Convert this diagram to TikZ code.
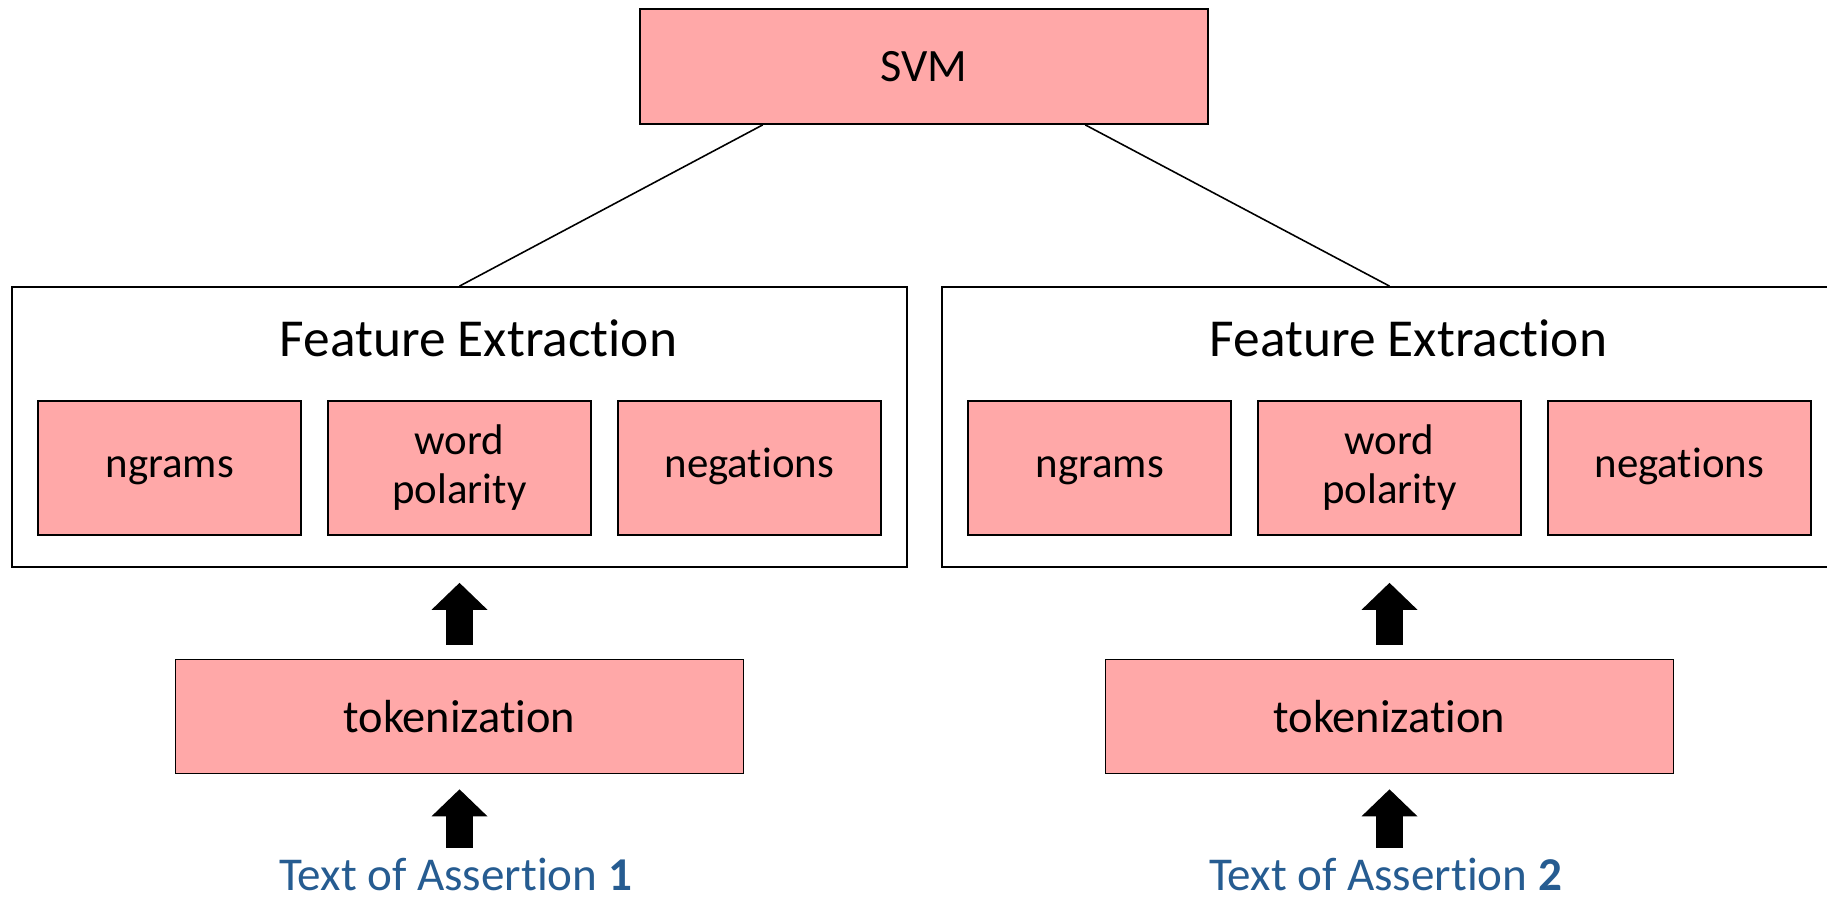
\documentclass[tikz,border=0pt]{standalone}
\usepackage{fontspec}
\setmainfont{Carlito}[Ligatures=NoCommon]
\usepackage{xcolor}
\usetikzlibrary{arrows.meta,positioning,calc}
\definecolor{boxpink}{RGB}{255,168,168}
\definecolor{txtblue}{RGB}{38,92,145}

\begin{document}
\begin{tikzpicture}[
  x=0.1mm, y=0.1mm, node distance=2.5mm and 2.5mm,
  box/.style={draw, line width=0.5pt, fill=boxpink, align=center, inner sep=0pt},
  wide/.style={box, minimum width=56.8mm, minimum height=11.4mm, font=\fontsize{13.2}{16}\selectfont},
  feat/.style={box, minimum width=26.3mm, minimum height=13.4mm, font=\fontsize{12.2}{13.9}\selectfont},
  one/.style={text height=0.77em, text depth=0.23em},
  grp/.style={draw, line width=0.5pt, minimum width=89.5mm, minimum height=28mm, inner sep=0pt},
  ttl/.style={inner sep=0pt, font=\fontsize{15.2}{18}\selectfont},
  src/.style={inner sep=0pt, anchor=base, text=txtblue, font=\fontsize{13.4}{16}\selectfont},
  blk/.style={-{Triangle[length=2.7mm, width=5.6mm, line width=0pt]}, line width=2.7mm,
              shorten <=1.4mm, shorten >=1.5mm},
  lnk/.style={line width=0.45pt},
]
\useasboundingbox (0,0) rectangle (1827,900);
\clip (0,0) rectangle (1827,900);
\node[wide, minimum height=11.5mm] (svm) at (924,833.5) {SVM};
\node[grp] (fe1) at (459.5,473) {};
\node[grp] (fe2) at (1389.5,473) {};
\node[ttl] (ttl1) at ($(fe1.north)+(19,-52)$) {Feature Extraction};
\node[ttl] (ttl2) at ($(fe2.north)+(19,-52)$) {Feature Extraction};
\node[feat] (wp1) at (459.5,432) {word\\polarity};
\node[feat, one, left=of wp1] (ng1) {ngrams};
\node[feat, one, right=of wp1] (neg1) {negations};
\node[feat] (wp2) at (1389.5,432) {word\\polarity};
\node[feat, one, left=of wp2] (ng2) {ngrams};
\node[feat, one, right=of wp2] (neg2) {negations};
\node[wide] (tok1) at (459.5,183.5) {tokenization};
\node[wide] (tok2) at (1389.5,183.5) {tokenization};
\node[src] (txt1) at (455.5,9) {Text of Assertion \textbf{1}};
\node[src] (txt2) at (1385.5,9) {Text of Assertion \textbf{2}};
\draw[lnk] ($(svm.south west)!0.217!(svm.south east)$) -- (fe1.north);
\draw[lnk] ($(svm.south west)!0.783!(svm.south east)$) -- (fe2.north);
\draw[blk] (tok1) -- (fe1);
\draw[blk] (tok2) -- (fe2);
\draw[blk, shorten <=1mm] (txt1.north -| tok1) -- (tok1);
\draw[blk, shorten <=1mm] (txt2.north -| tok2) -- (tok2);
\end{tikzpicture}
\end{document}
